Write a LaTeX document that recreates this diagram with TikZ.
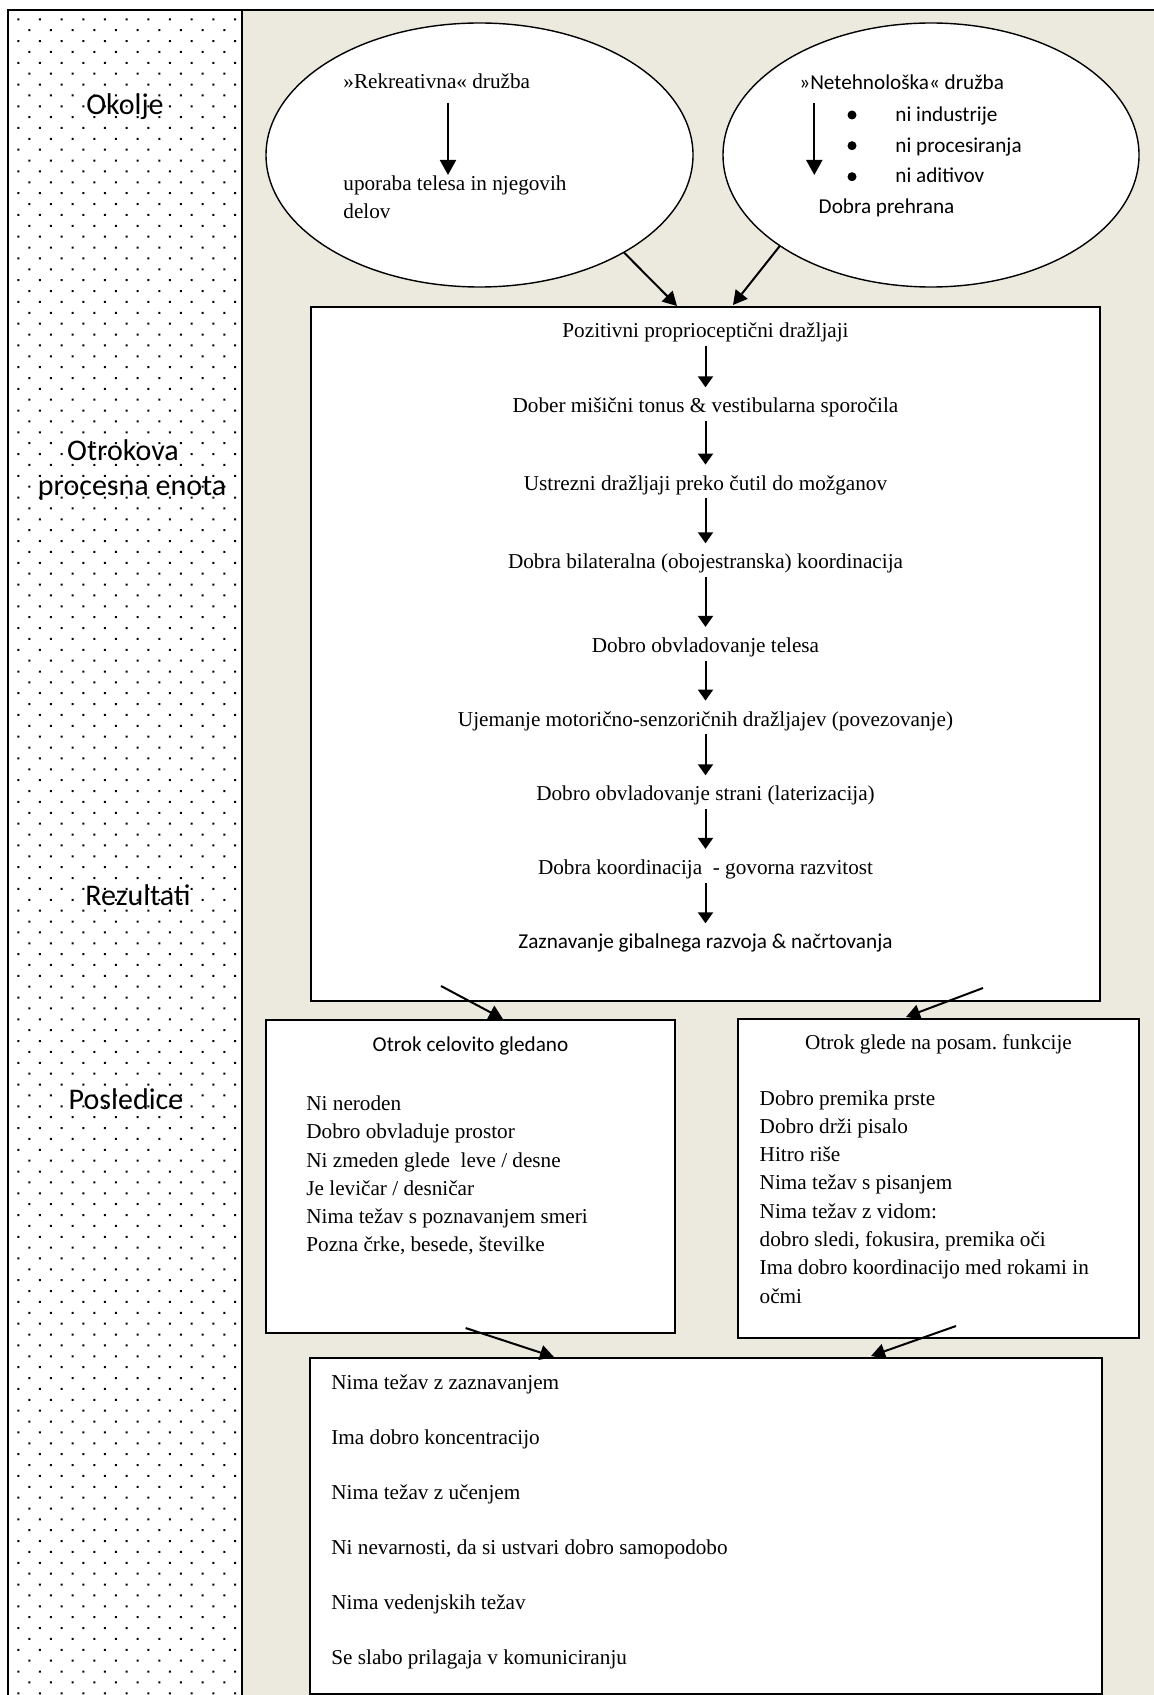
\documentclass[tikz,border=0pt]{standalone}
\usepackage{fontspec}
\setmainfont{Liberation Serif}
\newfontfamily\calfont{Carlito}
\usetikzlibrary{arrows.meta,shapes.geometric,calc}
\definecolor{beige}{RGB}{236,233,222}
\frenchspacing
\begin{document}
\begin{tikzpicture}[x=0.5pt,y=-0.5pt,
  font=\fontsize{10.6}{14}\selectfont,
  cfont/.style={font=\calfont\fontsize{10.6}{14}\selectfont},
  arr/.style={line width=1pt,-{Triangle[length=5.5pt,width=7.5pt]}},
  arrE/.style={line width=1pt,-{Triangle[length=7.5pt,width=8pt]}},
  arrD/.style={line width=1pt,-{Triangle[length=7pt,width=7.5pt]}},
  boxst/.style={draw,line width=1pt,fill=white,inner sep=0pt,outer sep=0pt},
  ell/.style={ellipse,draw,line width=0.7pt,fill=white,inner sep=0pt,outer sep=0pt},
  txt/.style={inner sep=0pt,outer sep=0pt,text height=8pt,text depth=3pt,anchor=base},
  lt/.style={inner sep=0pt,anchor=base west},
  side/.style={font=\calfont\fontsize{15}{18}\selectfont,inner sep=0pt},
  bul/.style={circle,fill,inner sep=0pt,minimum size=4.5pt}]
\useasboundingbox (0,0) rectangle (1154,1695);
\fill[white] (0,0) rectangle (1154,1695);
\fill[beige] (242,10) rectangle (1154,1695);
% dotted left column
\begin{scope}
\clip (9,11) rectangle (241,1695);
\fill[black] \foreach \r in {0,...,154}{\foreach \c in {0,...,11}{
  ({17.3+11*mod(\r,2)+21.67*\c},{18.3+10.87*\r}) rectangle ++(2,2) }};
\end{scope}
\draw[line width=1pt] (8,1695) -- (8,10) -- (1154,10);
\draw[line width=1.35pt] (242,10) -- (242,1695);
% side labels
\node[side] (s1) at (125,107) {Okolje};
\node[side] (s2) at (123,450) {Otrokova};
\node[side] (s3) at (132,488) {procesna enota};
\node[side] (s4) at (138,895) {Rezultati};
\node[side] (s5) at (126,1099) {Posledice};
% ellipses
\node[ell,minimum width=213.5pt,minimum height=132pt] (e1) at (479.5,155) {};
\node[ell,minimum width=208pt,minimum height=132pt] (e2) at (931,155) {};
\node[lt] (rek) at (343,88.3) {»Rekreativna« družba};
\node[lt] (upo) at (343,190.7) {uporaba telesa in njegovih};
\node[lt] (del) at (343,218.3) {delov};
\coordinate (ea1) at (448,103);
\coordinate (ea2) at (448,175);
\draw[arrE] (ea1) -- (ea2);
\node[lt,cfont] (net) at (799,90) {»Netehnološka« družba};
\node[bul] (b1) at (852,115) {};
\node[bul] (b2) at (852,145.7) {};
\node[bul] (b3) at (852,176.7) {};
\node[lt,cfont] (n1) at (895,121.7) {ni industrije};
\node[lt,cfont] (n2) at (895,152.7) {ni procesiranja};
\node[lt,cfont] (n3) at (895,182.7) {ni aditivov};
\node[lt,cfont] (dp) at (818.3,213.3) {Dobra prehrana};
\coordinate (eb1) at (814.3,103);
\coordinate (eb2) at (814.3,175);
\draw[arrE] (eb1) -- (eb2);
% main box
\node[boxst,minimum width=394.5pt,minimum height=347pt] (mbox) at (705.5,654) {};
\coordinate (m1) at (677,306);
\coordinate (m2) at (733,305);
\draw[arrD] (e1.-34) -- (m1);
\draw[arrD] (e2.-149) -- (m2);
\node[txt] (t1) at (705.5,337.3) {Pozitivni proprioceptični dražljaji};
\node[txt] (t2) at (705.5,412.7) {Dober mišični tonus \& vestibularna sporočila};
\node[txt] (t3) at (705.5,490) {Ustrezni dražljaji preko čutil do možganov};
\node[txt] (t4) at (705.5,568.7) {Dobra bilateralna (obojestranska) koordinacija};
\node[txt] (t5) at (705.5,652.3) {Dobro obvladovanje telesa};
\node[txt] (t6) at (705.5,726) {Ujemanje motorično-senzoričnih dražljajev (povezovanje)};
\node[txt] (t7) at (705.5,800.7) {Dobro obvladovanje strani (laterizacija)};
\node[txt] (t8) at (705.5,874.3) {Dobra koordinacija\ \ - govorna razvitost};
\node[txt,cfont] (t9) at (705.5,948.7) {Zaznavanje gibalnega razvoja \& načrtovanja};
\foreach \a/\b in {t1/t2,t2/t3,t3/t4,t4/t5,t5/t6,t6/t7,t7/t8,t8/t9}
  \draw[arr,shorten <=1.15pt,shorten >=4.7pt] (\a.south) -- (\b.north);
% lower boxes
\node[boxst,minimum width=204.5pt,minimum height=156.5pt] (lbox) at (470.5,1176.5) {};
\node[boxst,minimum width=200.25pt,minimum height=159.5pt] (rbox) at (938.25,1178) {};
\node[boxst,minimum width=396pt,minimum height=168pt] (bbox) at (706,1526) {};
\coordinate (ml1) at (441,986);
\coordinate (ml2) at (503,1019);
\coordinate (mr1) at (983,988);
\coordinate (mr2) at (906,1017);
\draw[arrD] (ml1) -- (ml2);
\draw[arrD] (mr1) -- (mr2);
\coordinate (lb1) at (465.6,1328);
\coordinate (lb2) at (554,1357);
\coordinate (rb1) at (956,1326);
\coordinate (rb2) at (871,1356);
\draw[arrD] (lb1) -- (lb2);
\draw[arrD] (rb1) -- (rb2);
\node[cfont,inner sep=0pt,anchor=base] (ltit) at (470.5,1051.7) {Otrok celovito gledano};
\node[inner sep=0pt,anchor=base] (rtit) at (938.5,1049) {Otrok glede na posam. funkcije};
\foreach \t [count=\i] in {Ni neroden, Dobro obvladuje prostor, Ni zmeden glede\ \ leve / desne, Je levičar / desničar, Nima težav s poznavanjem smeri, {Pozna črke, besede, številke}}
  \node[lt] (la\i) at (306,{1110.7+28.2*(\i-1)}) {\t};
\foreach \t [count=\i] in {Dobro premika prste, Dobro drži pisalo, Hitro riše, Nima težav s pisanjem, Nima težav z vidom:, {dobro sledi, fokusira, premika oči}, Ima dobro koordinacijo med rokami in, očmi}
  \node[lt] (ra\i) at (759.3,{1105+28.3*(\i-1)}) {\t};
\foreach \t [count=\i] in {Nima težav z zaznavanjem, Ima dobro koncentracijo, Nima težav z učenjem, {Ni nevarnosti, da si ustvari dobro samopodobo}, Nima vedenjskih težav, Se slabo prilagaja v komuniciranju}
  \node[lt] (ba\i) at (331,{1389.3+55*(\i-1)}) {\t};
\end{tikzpicture}
\end{document}
